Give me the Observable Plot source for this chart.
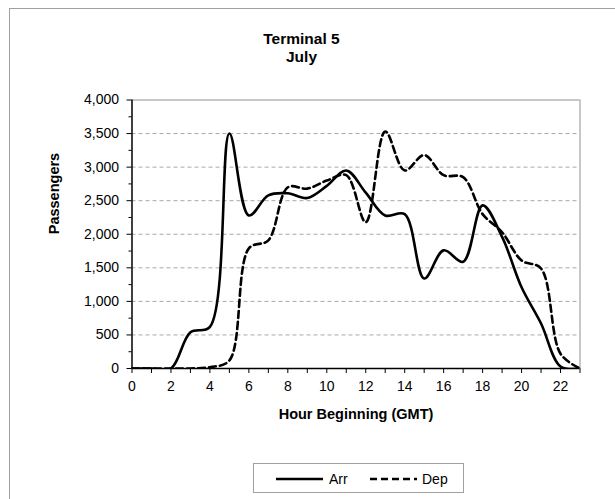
<!DOCTYPE html>
<html>
<head>
<meta charset="utf-8">
<script src="https://cdn.jsdelivr.net/npm/d3@7"></script>
<script src="https://cdn.jsdelivr.net/npm/@observablehq/plot@0.6"></script>
<style>
  html, body { margin: 0; padding: 0; background: #fff; }
  #wrap { position: relative; width: 615px; height: 499px; overflow: hidden; font-family: "Liberation Sans", Arial, sans-serif; }
  #border { position: absolute; left: 8.5px; top: 8px; width: 700px; height: 600px; border: 1px solid #a0a0a0; box-sizing: border-box; }
  .title { position: absolute; left: 0; width: 603px; text-align: center; font-weight: bold; font-size: 15.5px; color: #000; }
  #legend { position: absolute; left: 253px; top: 463px; width: 211px; height: 30px; border: 1px solid #a0a0a0; box-sizing: border-box; }
  #chart { position: absolute; left: 0; top: 0; }
</style>
</head>
<body>
<div id="wrap">
  <div id="border"></div>
  <div id="chart"></div>
  <div class="title" style="top:30px">Terminal 5</div>
  <div class="title" style="top:48px">July</div>
  <div id="legend"></div>
</div>
<script>
const hours = [0,1,2,3,4,5,6,7,8,9,10,11,12,13,14,15,16,17,18,19,20,21,22,23];
const arr = [0,0,0,540,620,3500,2280,2580,2610,2540,2720,2950,2620,2280,2300,1340,1760,1590,2430,1960,1210,670,30,0];
const dep = [0,0,0,0,20,120,1790,1910,2700,2680,2800,2880,2180,3530,2950,3180,2880,2850,2300,2030,1610,1490,220,0];
const seriesNames = ["Arr", "Dep"];
const yTicks = [0,500,1000,1500,2000,2500,3000,3500,4000];
const yMinor = [250,750,1250,1750,2250,2750,3250,3750];
const xTicks = [0,2,4,6,8,10,12,14,16,18,20,22];

const rows = [];
hours.forEach((h, i) => {
  rows.push({hour: h, value: arr[i], series: seriesNames[0]});
  rows.push({hour: h, value: dep[i], series: seriesNames[1]});
});

const font = "Liberation Sans, Arial, sans-serif";
const chart = Plot.plot({
  width: 615,
  height: 499,
  marginLeft: 131.5,
  marginRight: 35.5,
  marginTop: 99.5,
  marginBottom: 131,
  style: {fontFamily: font, fontSize: "14px", color: "#000", background: "transparent"},
  x: {domain: [0, 23]},
  y: {domain: [0, 4000]},
  marks: [
    Plot.ruleY(yTicks.slice(1, -1), {stroke: "#a8a8a8", strokeDasharray: "4,3", strokeWidth: 1}),
    Plot.ruleY([4000], {stroke: "#909090", strokeWidth: 1}),
    Plot.ruleX([23], {stroke: "#909090", strokeWidth: 1}),
    Plot.axisY({ticks: yMinor, tickSize: 3, tickFormat: () => "", label: null, stroke: "#000"}),
    Plot.axisY({ticks: yTicks, tickSize: 5, tickPadding: 8, tickFormat: d3.format(","), label: null, fontSize: 14}),
    Plot.axisX({ticks: hours, tickSize: 5, tickFormat: () => "", label: null}),
    Plot.axisX({ticks: xTicks, tickSize: 0, tickPadding: 13, tickFormat: d => String(d), label: null, fontSize: 14}),
    Plot.line(rows.filter(d => d.series === "Arr"), {x: "hour", y: "value", curve: "catmull-rom", stroke: "#000", strokeWidth: 2.6, clip: true}),
    Plot.line(rows.filter(d => d.series === "Dep"), {x: "hour", y: "value", curve: "catmull-rom", stroke: "#000", strokeWidth: 2.6, strokeDasharray: "7,4", clip: true}),
    Plot.ruleX([0], {stroke: "#000", strokeWidth: 1.5}),
    Plot.ruleY([0], {stroke: "#000", strokeWidth: 1.5}),
    Plot.text(["Hour Beginning (GMT)"], {frameAnchor: "bottom", dy: 50, fontWeight: "bold", fontSize: 14.5}),
    Plot.text(["Passengers"], {frameAnchor: "left", dx: -78, rotate: -90, fontWeight: "bold", fontSize: 14.5})
  ]
});
document.getElementById("chart").appendChild(chart);

// legend
const leg = d3.select("#legend").append("svg").attr("width", 211).attr("height", 30);
const items = [{name: seriesNames[0], x0: 22, dash: null, tx: 75}, {name: seriesNames[1], x0: 116, dash: "7,4", tx: 168}];
items.forEach(it => {
  leg.append("line").attr("x1", it.x0).attr("x2", it.x0 + 47).attr("y1", 15).attr("y2", 15)
    .attr("stroke", "#000").attr("stroke-width", 2.6).attr("stroke-dasharray", it.dash);
  leg.append("text").attr("x", it.tx).attr("y", 20).attr("font-family", font).attr("font-size", 14).text(it.name);
});
</script>
</body>
</html>
